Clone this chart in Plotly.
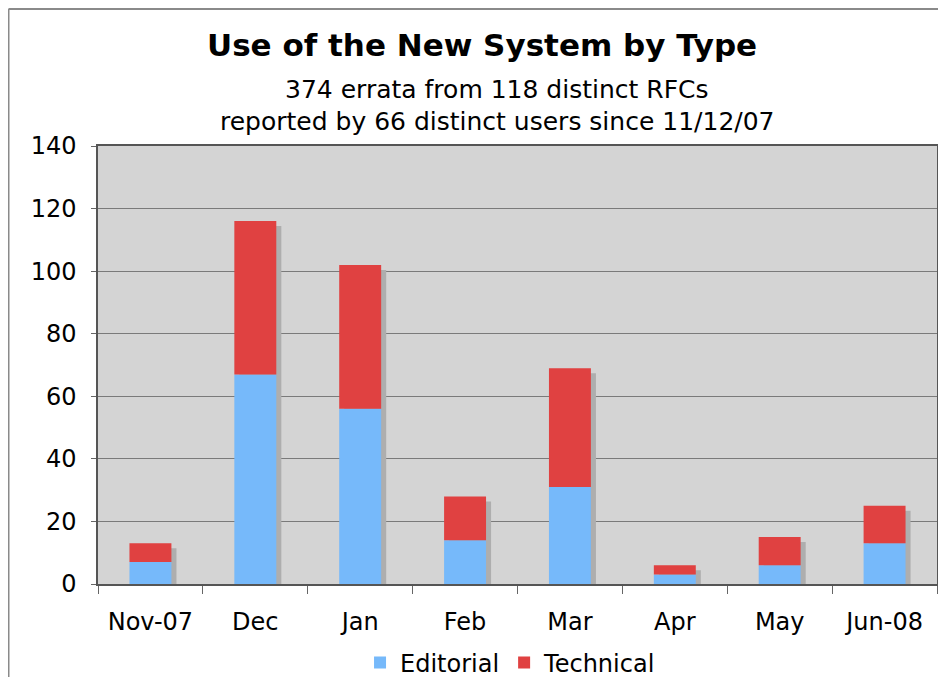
import plotly.graph_objects as go

# Monthly errata counts
months = ['Nov-07', 'Dec', 'Jan', 'Feb', 'Mar', 'Apr', 'May', 'Jun-08']
editorial = [7, 67, 56, 14, 31, 3, 6, 13]
technical = [6, 49, 46, 14, 38, 3, 9, 12]
totals = [e + t for e, t in zip(editorial, technical)]

FONT = 'DejaVu Sans'
BAR_W = 0.4
SHADOW_DX = 0.048   # shadow shift in category units
SHADOW_DY = 1.6     # shadow drop in value units

# page body adds ~8px margin, so the figure is a bit smaller than the window
W, H = 930, 669
ML, MR, MT, MB = 90, 1, 138, 93
PW, PH = W - ML - MR, H - MT - MB

fig = go.Figure()

# drop shadow behind each stacked bar
fig.add_trace(go.Bar(
    x=months, y=[t - SHADOW_DY for t in totals],
    width=BAR_W, offset=-BAR_W / 2 + SHADOW_DX,
    marker=dict(color='#AEAEAE', line=dict(width=0)),
    showlegend=False, hoverinfo='skip'
))
fig.add_trace(go.Bar(
    x=months, y=editorial, name='Editorial',
    width=BAR_W, offset=-BAR_W / 2,
    marker=dict(color='#76B9FA', line=dict(width=0))
))
fig.add_trace(go.Bar(
    x=months, y=technical, base=editorial, name='Technical',
    width=BAR_W, offset=-BAR_W / 2,
    marker=dict(color='#E04141', line=dict(width=0))
))

# thin frame on the top and left edge of the image
x_left = (0.5 - ML) / PW
x_right = (W - ML) / PW
y_top = (PH + MT - 1) / PH
y_bot = -MB / PH
fig.add_shape(type='line', xref='paper', yref='paper', x0=x_left, x1=x_right,
              y0=y_top, y1=y_top, line=dict(color='#8A8A8A', width=2))
fig.add_shape(type='line', xref='paper', yref='paper', x0=x_left, x1=x_left,
              y0=y_bot, y1=y_top, line=dict(color='#8A8A8A', width=2))

fig.update_layout(
    width=W, height=H,
    margin=dict(l=ML, r=MR, t=MT, b=MB, autoexpand=False),
    paper_bgcolor='white',
    plot_bgcolor='#D4D4D4',
    barmode='overlay',
    font=dict(family=FONT, size=24, color='black'),
    showlegend=True,
    legend=dict(orientation='h', x=0.4917, xanchor='center',
                yref='container', y=0.021, yanchor='middle',
                font=dict(size=24), itemwidth=30, traceorder='normal'),
    xaxis=dict(
        type='category', tickson='boundaries', ticks='outside', ticklen=8,
        tickcolor='#666666', showline=True, linecolor='#555555', linewidth=1.5,
        mirror=True, showgrid=False, tickfont=dict(size=24),
        ticklabelstandoff=15, automargin=False,
    ),
    yaxis=dict(
        range=[0, 140], dtick=20, ticks='outside', ticklen=5, tickcolor='#666666',
        showline=True, linecolor='#555555', linewidth=1.5, mirror=True,
        showgrid=True, gridcolor='#7A7A7A', gridwidth=1.2, zeroline=False,
        tickfont=dict(size=24), ticklabelstandoff=10, automargin=False,
    ),
    annotations=[
        dict(text='<b>Use of the New System by Type</b>', xref='paper', yref='paper',
             x=0.4577, y=1.2306, showarrow=False, font=dict(size=31),
             xanchor='center', yanchor='middle'),
        dict(text='374 errata from 118 distinct RFCs', xref='paper', yref='paper',
             x=0.4756, y=1.130, showarrow=False, font=dict(size=25),
             xanchor='center', yanchor='middle'),
        dict(text='reported by 66 distinct users since 11/12/07', xref='paper', yref='paper',
             x=0.4756, y=1.055, showarrow=False, font=dict(size=25),
             xanchor='center', yanchor='middle'),
    ],
)

fig.write_html('out.html')
